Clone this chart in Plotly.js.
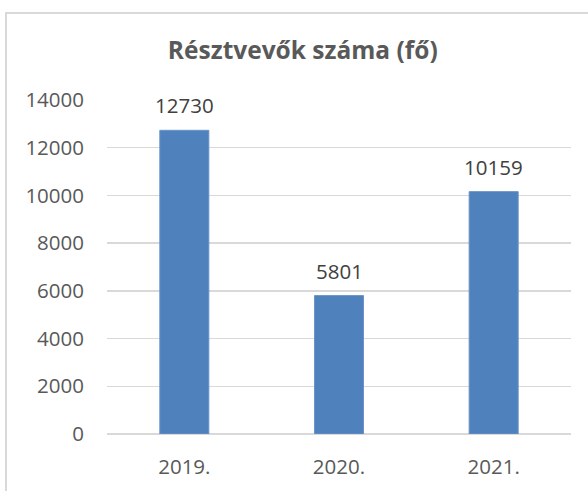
<!DOCTYPE html>
<html>
<head>
<meta charset="utf-8">
<script src="https://cdn.plot.ly/plotly-3.0.1.min.js"></script>
<style>
    html, body { margin: 0; padding: 0; background: #fff; }
    #frame { position: absolute; left: 5px; top: 12px; width: 600px; height: 500px; border: 2px solid #d9d9d9; }
    #chart { position: absolute; left: 0; top: 0; width: 588px; height: 491px; }
</style>
</head>
<body>
<div id="frame"></div>
<div id="chart"></div>
<script>
var years = ['2019.', '2020.', '2021.'];
var participants = [12730, 5801, 10159];
var yTicks = [0, 2000, 4000, 6000, 8000, 10000, 12000, 14000];

var FONT = '"Open Sans", "Noto Sans", sans-serif';
var GREY = '#595959';

var ply_data = [{
    x: years,
    y: participants,
    type: 'bar',
    marker: {color: '#4f81bd', line: {color: '#6a93c8', width: 1}},
    hoverinfo: 'none'
}];

// value labels over the bars (x as category index, numeric-looking names get misread)
var labels = participants.map(function(v, i) {
    return {
        x: i, y: v, xref: 'x', yref: 'y',
        text: String(v),
        showarrow: false, yanchor: 'bottom', yshift: 9,
        font: {family: FONT, size: 20.5, color: '#404040'}
    };
});

var ply_layout = {
    width: 588, height: 491,
    margin: {l: 107, r: 17, t: 100, b: 57},
    paper_bgcolor: 'rgba(0,0,0,0)',
    plot_bgcolor: 'rgba(0,0,0,0)',
    showlegend: false,
    bargap: 0.683,
    title: {
        text: '<b>Résztvevők száma (fő)</b>',
        font: {family: FONT, size: 24.5, color: GREY},
        x: 0.515, xref: 'container', xanchor: 'center',
        y: 0.898, yref: 'container', yanchor: 'middle'
    },
    xaxis: {
        type: 'category',
        showgrid: false, showline: false, zeroline: false,
        ticks: '', ticklabelstandoff: 18,
        tickfont: {family: FONT, size: 20.5, color: GREY}
    },
    yaxis: {
        range: [0, 14000],
        tickvals: yTicks,
        ticktext: yTicks.map(String),
        showgrid: true, gridcolor: '#d9d9d9', gridwidth: 1.5,
        zeroline: true, zerolinecolor: '#d9d9d9', zerolinewidth: 1.5,
        showline: false, ticks: '', ticklabelstandoff: 22,
        tickfont: {family: FONT, size: 20.5, color: GREY}
    },
    annotations: labels
};

Plotly.newPlot('chart', ply_data, ply_layout, {displayModeBar: false, staticPlot: true});
</script>
</body>
</html>
